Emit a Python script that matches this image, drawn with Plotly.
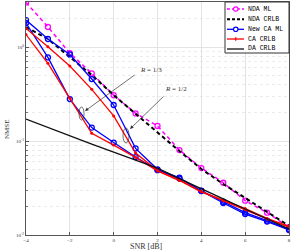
import plotly.graph_objects as go

snr = [-4, -3, -2, -1, 0, 1, 2, 3, 4, 5, 6, 7, 8]

nda_ml = [2.99, 1.64, 0.863, 0.525, 0.308, 0.197, 0.145, 0.0802, 0.0516, 0.0360, 0.0232, 0.0173, 0.0121]
nda_crlb = [1.63, 1.22, 0.783, 0.504, 0.308, 0.194, 0.125, 0.0783, 0.0504, 0.0349, 0.0248, 0.0176, 0.0125]
ca_ml_r12 = [1.94, 1.22, 0.835, 0.457, 0.242, 0.0835, 0.0500, 0.0407, 0.0296, 0.0226, 0.0173, 0.0142, 0.0115]
ca_ml_r13 = [1.80, 0.776, 0.280, 0.139, 0.0964, 0.0676, 0.0490, 0.0399, 0.0294, 0.0219, 0.0167, 0.0139, 0.0113]
ca_crlb_r12 = [1.58, 1.01, 0.628, 0.355, 0.185, 0.0745, 0.0485, 0.0385, 0.0290, 0.0233, 0.0187, 0.0148, 0.0122]
ca_crlb_r13 = [1.36, 0.672, 0.285, 0.121, 0.0906, 0.0671, 0.0480, 0.0380, 0.0288, 0.0236, 0.0191, 0.0150, 0.0123]
da_crlb = [0.171, 0.139, 0.113, 0.0929, 0.0764, 0.0628, 0.0516, 0.0399, 0.0308, 0.0242, 0.0189, 0.0148, 0.0116]

x_ticks = [-4, -2, 0, 2, 4, 6, 8]
y_ticks = [0.01, 0.1, 1]
y_ticktext = ["10<sup>-2</sup>", "10<sup>-1</sup>", "10<sup>0</sup>"]
y_minor = [m * d for d in (0.01, 0.1, 1) for m in range(2, 10) if m * d < 3.1]

legend_names = ["NDA ML", "NDA CRLB", "New CA ML", "CA CRLB", "DA CRLB"]

MAG, BLUE, RED, BLK = "#ff00ff", "#0000ff", "#ff0000", "#111111"

fig = go.Figure()
fig.add_trace(go.Scatter(x=snr, y=nda_ml, name="NDA ML", mode="lines+markers",
                         line=dict(color=MAG, width=1.5, dash="4px,3px"),
                         marker=dict(symbol="circle-open", size=5, color=MAG, line=dict(width=1.3))))
fig.add_trace(go.Scatter(x=snr, y=nda_crlb, name="NDA CRLB", mode="lines",
                         line=dict(color="black", width=2, dash="4px,3px")))
fig.add_trace(go.Scatter(x=snr, y=ca_ml_r12, name="New CA ML", mode="lines+markers",
                         line=dict(color=BLUE, width=1.3),
                         marker=dict(symbol="circle-open", size=5, color=BLUE, line=dict(width=1.3))))
fig.add_trace(go.Scatter(x=snr, y=ca_ml_r13, name="New CA ML", mode="lines+markers",
                         line=dict(color=BLUE, width=1.3),
                         marker=dict(symbol="circle-open", size=5, color=BLUE, line=dict(width=1.3))))
fig.add_trace(go.Scatter(x=snr, y=ca_crlb_r12, name="CA CRLB", mode="lines+markers",
                         line=dict(color=RED, width=1.3),
                         marker=dict(symbol="circle", size=3, color=RED)))
fig.add_trace(go.Scatter(x=snr, y=ca_crlb_r13, name="CA CRLB", mode="lines+markers",
                         line=dict(color=RED, width=1.3),
                         marker=dict(symbol="circle", size=3, color=RED)))
fig.add_trace(go.Scatter(x=snr, y=da_crlb, name="DA CRLB", mode="lines",
                         line=dict(color=BLK, width=1.3)))

L, R, T, B = 26, 3, 2, 17
W, H = 292, 252
pw, ph = W - L - R, H - T - B

def px(xp):
    return (xp - L) / pw

def py(yp):
    return (H - B - yp) / ph

# annotations (arrows, labels, ellipses)
XR, YR = "x domain", "y domain"
fig.add_annotation(x=px(85), y=py(111), xref=XR, yref=YR,
                   ax=px(136), ay=py(74), axref=XR, ayref=YR,
                   text="", showarrow=True, arrowhead=2, arrowsize=1, arrowwidth=0.7, arrowcolor="#333333")
fig.add_annotation(x=px(138), y=py(70), xref=XR, yref=YR, text="<i>R</i> = 1/3",
                   showarrow=False, xanchor="left", yanchor="middle",
                   font=dict(family="Liberation Serif", size=7, color="#333333"))
fig.add_annotation(x=px(130), y=py(129), xref=XR, yref=YR,
                   ax=px(165), ay=py(95), axref=XR, ayref=YR,
                   text="", showarrow=True, arrowhead=2, arrowsize=1, arrowwidth=0.7, arrowcolor="#333333")
fig.add_annotation(x=px(163), y=py(89), xref=XR, yref=YR, text="<i>R</i> = 1/2",
                   showarrow=False, xanchor="left", yanchor="middle",
                   font=dict(family="Liberation Serif", size=7, color="#333333"))
fig.add_shape(type="circle", xref="paper", yref="paper", x0=px(79), x1=px(84), y0=py(120), y1=py(107),
              line=dict(color="#333333", width=0.7))
fig.add_shape(type="circle", xref="paper", yref="paper", x0=px(123), x1=px(129), y0=py(143), y1=py(128),
              line=dict(color="#333333", width=0.7))

# axis titles
fig.add_annotation(x=px(146), y=py(246), xref="paper", yref="paper", text="SNR [dB]", showarrow=False,
                   xanchor="center", yanchor="middle", font=dict(family="Liberation Serif", size=8, color="#333333"))
fig.add_annotation(x=px(7), y=py(130), xref="paper", yref="paper", text="NMSE", showarrow=False, textangle=-90,
                   xanchor="center", yanchor="middle", font=dict(family="Liberation Serif", size=7, color="#333333"))

# custom compact legend
bx0, bx1, by0, by1 = 225, 289, 2, 53
fig.add_shape(type="rect", xref="paper", yref="paper", x0=px(bx0), x1=px(bx1), y0=py(by1), y1=py(by0),
              fillcolor="white", line=dict(color="#333333", width=1), layer="above")
leg_y = [9, 19.3, 29.3, 39, 49]
leg_style = [
    dict(color=MAG, width=1.5, dash="3px,2px"),
    dict(color="black", width=2, dash="3px,2px"),
    dict(color=BLUE, width=1.3),
    dict(color=RED, width=1.3),
    dict(color=BLK, width=1.3),
]
for name, yy, st in zip(legend_names, leg_y, leg_style):
    fig.add_shape(type="line", xref="paper", yref="paper", x0=px(227), x1=px(244), y0=py(yy), y1=py(yy),
                  line=st, layer="above")
    fig.add_annotation(x=px(246), y=py(yy), xref="paper", yref="paper", text=name, showarrow=False,
                       xanchor="left", yanchor="middle",
                       font=dict(family="Liberation Mono", size=6.5, color="black"))
# legend markers
fig.add_shape(type="circle", xref="paper", yref="paper", x0=px(233.5), x1=px(238), y0=py(leg_y[0] + 2.2),
              y1=py(leg_y[0] - 2.2), line=dict(color=MAG, width=1.2), fillcolor="white", layer="above")
fig.add_shape(type="circle", xref="paper", yref="paper", x0=px(233.5), x1=px(238), y0=py(leg_y[2] + 2.2),
              y1=py(leg_y[2] - 2.2), line=dict(color=BLUE, width=1.2), fillcolor="white", layer="above")
fig.add_shape(type="line", xref="paper", yref="paper", x0=px(235.7), x1=px(235.7), y0=py(leg_y[3] + 1.8),
              y1=py(leg_y[3] - 1.8), line=dict(color=RED, width=1.2), layer="above")

fig.update_layout(
    width=W, height=H,
    margin=dict(l=L, r=R, t=T, b=B),
    plot_bgcolor="white", paper_bgcolor="white",
    font=dict(family="Liberation Serif", size=6, color="#333333"),
    showlegend=False,
)
fig.update_xaxes(range=[-4, 8], tickvals=x_ticks, showgrid=True, gridcolor="#e3e3e3", gridwidth=1,
                 showline=True, linecolor="#555555", linewidth=1, mirror=True, automargin=False,
                 ticks="inside", ticklen=3, tickcolor="#555555", zeroline=False,
                 tickfont=dict(size=5))
fig.update_yaxes(type="log", range=[-2, 0.48], tickvals=y_ticks, ticktext=y_ticktext,
                 showgrid=True, gridcolor="#e3e3e3", gridwidth=1,
                 showline=True, linecolor="#555555", linewidth=1, mirror=True, automargin=False,
                 ticks="inside", ticklen=3, tickcolor="#555555", zeroline=False,
                 minor=dict(tickvals=y_minor, showgrid=True, gridcolor="#ebebeb", griddash="dot",
                            ticks="inside", ticklen=2, tickcolor="#777777"),
                 tickfont=dict(size=5))

fig.write_html("out.html", config={"displayModeBar": False, "staticPlot": True},
               post_script="document.body.style.margin='0';document.body.style.overflow='hidden';")
